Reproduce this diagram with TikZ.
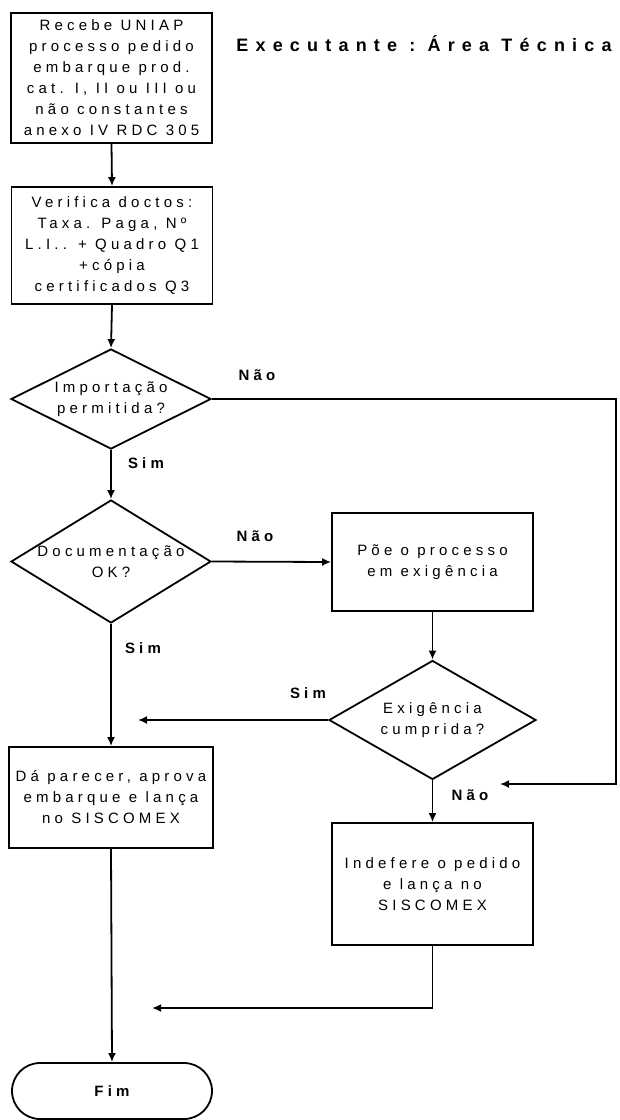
\documentclass[tikz,border=0pt]{standalone}
\usepackage{fontspec}
\setmainfont{Liberation Sans}
\newfontfamily\caixafont[LetterSpace=28]{Liberation Sans}
\newfontfamily\titulofont[LetterSpace=40]{Liberation Sans}
\usetikzlibrary{shapes.geometric,arrows.meta}

\tikzset{
  caixa/.style={draw, line width=1.8pt, inner sep=0pt, align=center,
    font=\caixafont\fontsize{15}{21}\selectfont, minimum width=201pt},
  losango/.style={draw, diamond, line width=1.8pt, inner sep=0pt},
  texto/.style={align=center, inner sep=0pt, font=\caixafont\fontsize{15}{21}\selectfont},
  rotulo/.style={inner sep=0pt, font=\caixafont\bfseries\fontsize{15}{18}\selectfont},
  titulo/.style={inner sep=0pt, font=\titulofont\bfseries\fontsize{18}{20}\selectfont},
  seta/.style={line width=1.8pt, -{Latex[length=9pt,width=8pt]}},
}

\begin{document}
\begin{tikzpicture}[x=1pt,y=-1pt]
    \useasboundingbox (0,0) rectangle (620,1120);

    % Título
    \node[titulo] (titulo) at (424,44) {Executante :\ Área Técnica};

    % Coluna da esquerda
    \node[caixa, minimum height=130pt] (recebe) at (111.5,78)
        {Recebe UNIAP\\processo pedido\\embarque prod.\\cat. I, II ou III ou\\não constantes\\anexo IV RDC 305};
    \node[caixa, minimum height=117pt] (verifica) at (112,245.5)
        {Verifica doctos:\\Taxa. Paga, Nº\\L.I.. + Quadro Q1\\+cópia\\certificados Q3};
    \node[losango, minimum width=200pt, minimum height=100pt] (importa) at (111,399) {};
    \node[texto] (timporta) at (importa) {Importação\\permitida?};
    \node[losango, minimum width=200pt, minimum height=123pt] (docok) at (111,561.5) {};
    \node[texto] (tdocok) at (docok) {Documentação\\OK?};
    \node[caixa, minimum width=204pt, minimum height=101pt] (aprova) at (111,797.5)
        {Dá parecer, aprova\\embarque e lança\\no SISCOMEX};
    \node[draw, line width=1.8pt, rounded corners=28pt, minimum width=200pt,
        minimum height=56pt, font=\caixafont\bfseries\fontsize{15}{18}\selectfont] (fim) at (112,1091) {Fim};

    % Coluna da direita
    \node[caixa, minimum height=98pt] (exige) at (432.5,562)
        {Põe o processo\\em exigência};
    \node[losango, minimum width=207pt, minimum height=119pt] (cumprida) at (432.5,720) {};
    \node[texto] (tcumprida) at (cumprida) {Exigência\\cumprida?};
    \node[caixa, minimum height=122pt] (indefere) at (432.5,884)
        {Indefere o pedido\\e lança no\\SISCOMEX};

    % Pontas soltas
    \coordinate (simfim) at (138,720);
    \coordinate (dobra) at (616,784);
    \coordinate (naofim) at (500,784);
    \coordinate (retorno) at (152,1008);

    % Ligações
    \draw[seta] (recebe.south) -- (verifica.north);
    \draw[seta] (verifica.south) -- (importa.north);
    \draw[seta] (importa.south) -- (docok.north);
    \draw[seta] (docok.east) -- (exige.west);
    \draw[seta] (docok.south) -- (aprova.north);
    \draw[seta] (exige.south) -- (cumprida.north);
    \draw[seta] (cumprida.west) -- (simfim);
    \draw[seta] (importa.east) -| (dobra) -- (naofim);
    \draw[seta] (cumprida.south) -- (indefere.north);
    \draw[seta] (indefere.south) |- (retorno);
    \draw[seta] (aprova.south) -- (fim.north);

    % Rótulos
    \node[rotulo] (nao1) at (257,375) {Não};
    \node[rotulo] (sim1) at (146,463) {Sim};
    \node[rotulo] (nao2) at (255,536) {Não};
    \node[rotulo] (sim2) at (143,648) {Sim};
    \node[rotulo] (sim3) at (308,693) {Sim};
    \node[rotulo] (nao3) at (470,795) {Não};
\end{tikzpicture}
\end{document}
